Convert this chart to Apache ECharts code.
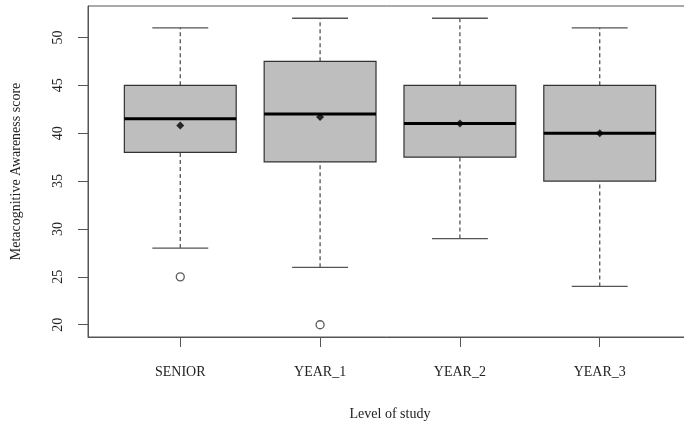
<!DOCTYPE html>
<html>
<head>
<meta charset="utf-8">
<script src="https://cdn.jsdelivr.net/npm/echarts@6/dist/echarts.min.js"></script>
<style>
html,body{margin:0;padding:0;background:#fff;}
#chart{width:684px;height:423px;}
</style>
</head>
<body>
<div id="chart"></div>
<script>
const categories = ['SENIOR', 'YEAR_1', 'YEAR_2', 'YEAR_3'];
const whiskerLow = [28, 26, 29, 24];
const q1 = [38, 37, 37.5, 35];
const median = [41.5, 42, 41, 40];
const q3 = [45, 47.5, 45, 45];
const whiskerHigh = [51, 52, 52, 51];
const means = [40.8, 41.7, 41.0, 40.0];
const outlierCat = [0, 1];
const outlierVal = [25, 20];
const yTicks = [20, 25, 30, 35, 40, 45, 50];
const xTicks = [1, 2, 3, 4];

const FONT = "'Liberation Serif', 'Times New Roman', serif";
const boxData = categories.map((c, i) => [i + 1, whiskerLow[i], q1[i], median[i], q3[i], whiskerHigh[i]]);
const meanData = categories.map((c, i) => [i + 1, means[i]]);
const outData = outlierCat.map((c, i) => [c + 1, outlierVal[i]]);

const chart = echarts.init(document.getElementById('chart'), null, {renderer: 'canvas'});
chart.setOption({
  animation: false,
  backgroundColor: '#fff',
  grid: {left: 88, right: -8, top: 6, bottom: 86, show: true, borderColor: '#555', borderWidth: 1,
    backgroundColor: 'transparent', containLabel: false, outerBoundsMode: 'none'},
  xAxis: {
    type: 'value', min: 0.34, max: 4.66,
    name: 'Level of study', nameLocation: 'middle', nameGap: 70,
    nameTextStyle: {fontFamily: FONT, fontSize: 14, color: '#222'},
    axisLine: {show: true, onZero: false, lineStyle: {color: '#555', width: 1}},
    axisTick: {show: true, customValues: xTicks, length: 10, inside: false, lineStyle: {color: '#555'}},
    axisLabel: {customValues: xTicks, margin: 28, fontFamily: FONT, fontSize: 14, color: '#222',
      formatter: v => categories[Math.round(v) - 1] || ''},
    splitLine: {show: false}
  },
  yAxis: {
    type: 'value', min: 18.72, max: 53.28,
    name: 'Metacognitive Awareness score', nameLocation: 'middle', nameGap: 65, nameRotate: 90,
    nameTextStyle: {fontFamily: FONT, fontSize: 14, color: '#222'},
    axisLine: {show: true, onZero: false, lineStyle: {color: '#555', width: 1}},
    axisTick: {show: true, customValues: yTicks, length: 10, lineStyle: {color: '#555'}},
    axisLabel: {customValues: yTicks, rotate: 90, margin: 23, fontFamily: FONT, fontSize: 14, color: '#222'},
    splitLine: {show: false}
  },
  series: [
    {
      type: 'custom',
      data: boxData,
      renderItem: function (params, api) {
        const x = api.value(0);
        const pLow = api.coord([x, api.value(1)]);
        const pQ1 = api.coord([x, api.value(2)]);
        const pMed = api.coord([x, api.value(3)]);
        const pQ3 = api.coord([x, api.value(4)]);
        const pHigh = api.coord([x, api.value(5)]);
        const halfW = api.size([0.4, 0])[0];
        const capHalf = halfW / 2;
        const cx = pMed[0];
        const wStyle = {stroke: '#555', lineWidth: 1.3, lineDash: [4, 3]};
        const cStyle = {stroke: '#555', lineWidth: 1.3};
        return {
          type: 'group',
          children: [
            {type: 'line', shape: {x1: cx, y1: pQ3[1], x2: cx, y2: pHigh[1]}, style: wStyle},
            {type: 'line', shape: {x1: cx, y1: pLow[1], x2: cx, y2: pQ1[1]}, style: wStyle},
            {type: 'line', shape: {x1: cx - capHalf, y1: pHigh[1], x2: cx + capHalf, y2: pHigh[1]}, style: cStyle},
            {type: 'line', shape: {x1: cx - capHalf, y1: pLow[1], x2: cx + capHalf, y2: pLow[1]}, style: cStyle},
            {type: 'rect', shape: {x: cx - halfW, y: pQ3[1], width: halfW * 2, height: pQ1[1] - pQ3[1]},
              style: {fill: '#bebebe', stroke: '#333', lineWidth: 1.2}},
            {type: 'line', shape: {x1: cx - halfW, y1: pMed[1], x2: cx + halfW, y2: pMed[1]},
              style: {stroke: '#000', lineWidth: 3}}
          ]
        };
      },
      z: 2
    },
    {
      type: 'scatter', data: meanData, symbol: 'diamond', symbolSize: 8,
      itemStyle: {color: '#000'}, z: 3
    },
    {
      type: 'scatter', data: outData, symbol: 'circle', symbolSize: 8,
      itemStyle: {color: 'rgba(255,255,255,0)', borderColor: '#333', borderWidth: 1.3}, z: 3
    }
  ]
});
</script>
</body>
</html>
